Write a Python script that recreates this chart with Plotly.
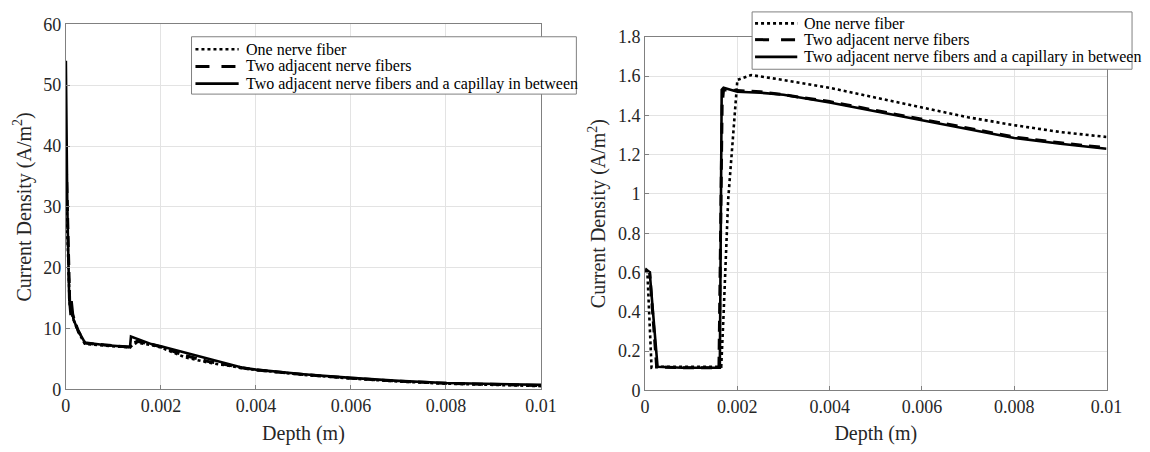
import plotly.graph_objects as go

# ---------------- data ----------------
series_names = ["One nerve fiber", "Two adjacent nerve fibers",
                "Two adjacent nerve fibers and a capillay in between"]
series_names_right = ["One nerve fiber", "Two adjacent nerve fibers",
                      "Two adjacent nerve fibers and a capillary in between"]

# Left panel
left_x_one = [0, 0.00003, 0.00008, 0.00012, 0.00016, 0.00025, 0.0004, 0.0008, 0.0012, 0.00135,
              0.0014, 0.0015, 0.0018, 0.002, 0.0025, 0.003, 0.0035, 0.0037, 0.004, 0.005,
              0.006, 0.007, 0.008, 0.009, 0.01]
left_y_one = [38, 26, 14, 12.5, 11.5, 9.6, 7.5, 7.2, 7.0, 6.9,
              7.3, 7.7, 7.3, 6.9, 5.3, 4.4, 3.8, 3.5, 3.2, 2.4,
              1.8, 1.3, 0.95, 0.7, 0.55]

left_x_two = [0, 0.00003, 0.00008, 0.00012, 0.00016, 0.00025, 0.0004, 0.0008, 0.0012, 0.00135,
              0.0014, 0.0015, 0.0018, 0.002, 0.0025, 0.003, 0.0035, 0.0037, 0.004, 0.005,
              0.006, 0.007, 0.008, 0.009, 0.01]
left_y_two = [40, 30, 14.5, 12.8, 11.8, 9.8, 7.6, 7.3, 7.05, 6.95,
              7.5, 7.9, 7.4, 7.0, 5.6, 4.6, 3.9, 3.55, 3.2, 2.45,
              1.85, 1.35, 1.0, 0.8, 0.65]

left_x_cap = [0, 0.00003, 0.00007, 0.0001, 0.00012, 0.00016, 0.00025, 0.0004, 0.0008, 0.0012,
              0.00135, 0.00137, 0.0016, 0.0018, 0.002, 0.0025, 0.003, 0.0035, 0.0037, 0.004,
              0.005, 0.006, 0.007, 0.008, 0.009, 0.01]
left_y_cap = [54, 30, 15, 12.2, 14.5, 11.5, 9.8, 7.7, 7.3, 7.1,
              6.95, 8.7, 8.0, 7.45, 7.1, 6.1, 5.1, 4.1, 3.6, 3.25,
              2.5, 1.9, 1.4, 1.05, 0.85, 0.75]

# Right panel
right_x_one = [0, 0.00005, 0.00014, 0.0003, 0.0008, 0.0012, 0.00165, 0.0017, 0.0018, 0.002,
               0.0023, 0.003, 0.004, 0.005, 0.006, 0.007, 0.008, 0.009, 0.01]
right_y_one = [0.61, 0.60, 0.115, 0.12, 0.12, 0.12, 0.12, 0.38, 0.97, 1.58,
               1.605, 1.58, 1.54, 1.49, 1.44, 1.39, 1.35, 1.315, 1.29]

right_x_two = [0, 0.0001, 0.00025, 0.0008, 0.0016, 0.00167, 0.0017, 0.002, 0.0025, 0.003,
               0.004, 0.005, 0.006, 0.007, 0.008, 0.009, 0.01]
right_y_two = [0.61, 0.60, 0.12, 0.115, 0.115, 1.45, 1.53, 1.525, 1.52, 1.505,
               1.47, 1.425, 1.38, 1.335, 1.29, 1.26, 1.235]

right_x_cap = [0, 0.0001, 0.00027, 0.0008, 0.00162, 0.00166, 0.0017, 0.002, 0.0025, 0.003,
               0.004, 0.005, 0.006, 0.007, 0.008, 0.009, 0.01]
right_y_cap = [0.62, 0.60, 0.12, 0.115, 0.115, 1.53, 1.54, 1.52, 1.515, 1.505,
               1.465, 1.42, 1.375, 1.33, 1.285, 1.255, 1.23]

x_tickvals = [0, 0.002, 0.004, 0.006, 0.008, 0.01]
x_ticktext = ["0", "0.002", "0.004", "0.006", "0.008", "0.01"]
left_y_tickvals = [0, 10, 20, 30, 40, 50, 60]
left_y_ticktext = ["0", "10", "20", "30", "40", "50", "60"]
right_y_tickvals = [0, 0.2, 0.4, 0.6, 0.8, 1.0, 1.2, 1.4, 1.6, 1.8]
right_y_ticktext = ["0", "0.2", "0.4", "0.6", "0.8", "1", "1.2", "1.4", "1.6", "1.8"]

x_title = "Depth (m)"
y_title = "Current Density (A/m<sup>2</sup>)"

# ---------------- figure ----------------
W, H = 1150, 452
FONT = "Liberation Serif"
TXT = "#262626"
AXC = "#808080"

styles = [dict(dash="dot", width=2.6), dict(dash="11px,7px", width=3), dict(dash="solid", width=2.6)]
legend_dashes = ["dot", "14px,12px", "solid"]


def px_x(p):
    return p / W


def px_y(p):
    return 1 - p / H


fig = go.Figure()

left_sets = [(left_x_one, left_y_one), (left_x_two, left_y_two), (left_x_cap, left_y_cap)]
for (xs, ys), name, st in zip(left_sets, series_names, styles):
    fig.add_trace(go.Scatter(x=xs, y=ys, mode="lines", name=name,
                             line=dict(color="black", **st),
                             xaxis="x", yaxis="y", showlegend=False))

right_sets = [(right_x_one, right_y_one), (right_x_two, right_y_two), (right_x_cap, right_y_cap)]
for (xs, ys), name, st in zip(right_sets, series_names_right, styles):
    fig.add_trace(go.Scatter(x=xs, y=ys, mode="lines", name=name,
                             line=dict(color="black", **st),
                             xaxis="x2", yaxis="y2", showlegend=False))

# ---- legend boxes (drawn as layout decorations) ----
shapes = []
annotations = []
legend_specs = [
    dict(box=(190, 28, 582, 88), sx=(194, 238), tx=243, rows=(41, 59, 77), names=series_names),
    dict(box=(761, 2, 1148, 62), sx=(764, 807), tx=812, rows=(14, 31, 49), names=series_names_right),
]
for spec in legend_specs:
    bx0, by0, bx1, by1 = spec["box"]
    shapes.append(dict(type="rect", xref="paper", yref="paper",
                       x0=px_x(bx0), x1=px_x(bx1), y0=px_y(by1), y1=px_y(by0),
                       line=dict(color=AXC, width=1), fillcolor="white", layer="above"))
    for ry, name, st, ld in zip(spec["rows"], spec["names"], styles, legend_dashes):
        shapes.append(dict(type="line", xref="paper", yref="paper",
                           x0=px_x(spec["sx"][0]), x1=px_x(spec["sx"][1]),
                           y0=px_y(ry), y1=px_y(ry), layer="above",
                           line=dict(color="black", width=st["width"], dash=ld)))
        annotations.append(dict(text=name, xref="paper", yref="paper",
                                x=px_x(spec["tx"]), y=px_y(ry), xanchor="left", yanchor="middle",
                                showarrow=False,
                                font=dict(family=FONT, size=16, color="black")))

axis_common = dict(showline=True, mirror=True, linecolor=AXC, linewidth=1,
                   ticks="inside", ticklen=4, tickcolor=AXC,
                   showgrid=True, gridcolor="#e3e3e3", gridwidth=1, zeroline=False,
                   tickfont=dict(family=FONT, size=18, color=TXT))
title_font = dict(family=FONT, size=20, color=TXT)

fig.update_layout(
    width=W, height=H,
    margin=dict(l=0, r=0, t=0, b=0),
    paper_bgcolor="white", plot_bgcolor="white",
    font=dict(family=FONT, color=TXT),
    showlegend=False,
    shapes=shapes,
    annotations=annotations,
    xaxis=dict(domain=[px_x(62), px_x(546)], range=[0, 0.01], anchor="y",
               tickvals=x_tickvals, ticktext=x_ticktext,
               title=dict(text=x_title, font=title_font, standoff=10),
               **axis_common),
    yaxis=dict(domain=[px_y(397), px_y(15)], range=[0, 60], anchor="x",
               tickvals=left_y_tickvals, ticktext=left_y_ticktext,
               title=dict(text=y_title, font=title_font, standoff=6),
               **axis_common),
    xaxis2=dict(domain=[px_x(652), px_x(1122)], range=[0, 0.01], anchor="y2",
                tickvals=x_tickvals, ticktext=x_ticktext,
                title=dict(text=x_title, font=title_font, standoff=10),
                **axis_common),
    yaxis2=dict(domain=[px_y(398), px_y(28)], range=[0, 1.8], anchor="x2",
                tickvals=right_y_tickvals, ticktext=right_y_ticktext,
                title=dict(text=y_title, font=title_font, standoff=6),
                **axis_common),
)

fig.write_html("out.html")
